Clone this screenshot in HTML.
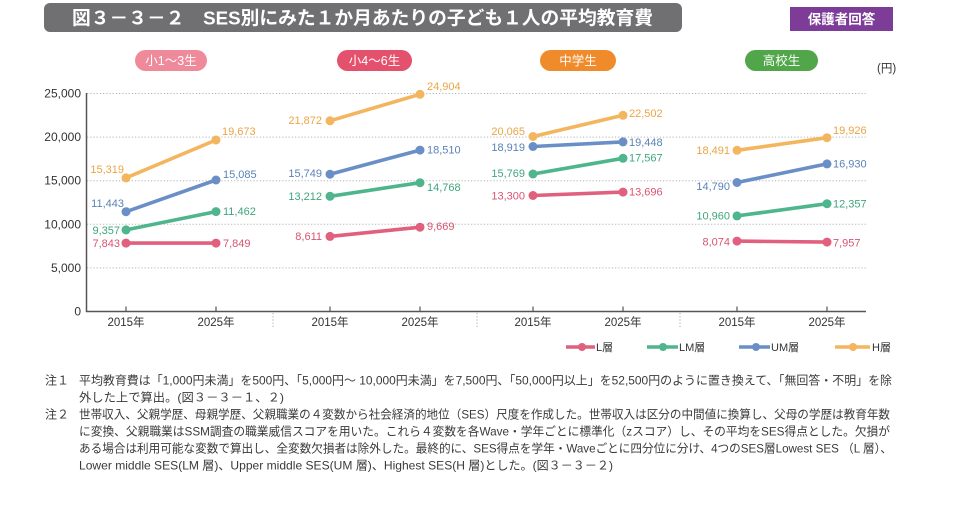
<!DOCTYPE html>
<html><head><meta charset="utf-8"><style>
html,body{margin:0;padding:0;background:#fff;}
svg{display:block;}
.t{font-family:"Liberation Sans","Noto Sans CJK JP",sans-serif;}
</style></head><body>
<svg width="957" height="526" viewBox="0 0 957 526" xmlns="http://www.w3.org/2000/svg" class="t">
<!-- title bar -->
<rect x="44" y="3" width="638" height="29" rx="6" fill="#707073"/>
<text x="72" y="24.5" font-size="18.5" font-weight="bold" fill="#fff" textLength="581" lengthAdjust="spacingAndGlyphs" font-family="Liberation Sans, Noto Sans CJK JP, sans-serif">図３－３－２　SES別にみた１か月あたりの子ども１人の平均教育費</text>
<rect x="790" y="7" width="103" height="24" fill="#7d3c98"/>
<text x="841.5" y="24" font-size="13.5" font-weight="bold" fill="#fff" text-anchor="middle" font-family="Liberation Sans, Noto Sans CJK JP, sans-serif">保護者回答</text>

<!-- pills -->
<rect x="135" y="50" width="72" height="21" rx="10.5" fill="#ef8a9b"/>
<text x="171" y="65" font-size="12.5" fill="#fff" text-anchor="middle" font-family="Liberation Sans, Noto Sans CJK JP, sans-serif">小1～3生</text>
<rect x="337" y="50" width="75" height="21" rx="10.5" fill="#e4516d"/>
<text x="374.5" y="65" font-size="12.5" fill="#fff" text-anchor="middle" font-family="Liberation Sans, Noto Sans CJK JP, sans-serif">小4～6生</text>
<rect x="540" y="50" width="76" height="21" rx="10.5" fill="#f08b2c"/>
<text x="578" y="65" font-size="12.5" fill="#fff" text-anchor="middle" font-family="Liberation Sans, Noto Sans CJK JP, sans-serif">中学生</text>
<rect x="745" y="50" width="73" height="21" rx="10.5" fill="#52a64a"/>
<text x="781.5" y="65" font-size="12.5" fill="#fff" text-anchor="middle" font-family="Liberation Sans, Noto Sans CJK JP, sans-serif">高校生</text>
<text x="877" y="72" font-size="11.5" fill="#333" font-family="Liberation Sans, Noto Sans CJK JP, sans-serif">(円)</text>

<!-- gridlines -->
<g stroke="#b5b5b5" stroke-width="1" stroke-dasharray="1.2,2">
<line x1="87" y1="93.5" x2="866" y2="93.5"/>
<line x1="87" y1="137.1" x2="866" y2="137.1"/>
<line x1="87" y1="180.7" x2="866" y2="180.7"/>
<line x1="87" y1="224.3" x2="866" y2="224.3"/>
<line x1="87" y1="267.9" x2="866" y2="267.9"/>
</g>
<!-- axes -->
<line x1="86.5" y1="93" x2="86.5" y2="312" stroke="#555" stroke-width="1.5"/>
<line x1="86" y1="311.5" x2="866" y2="311.5" stroke="#555" stroke-width="1.5"/>
<g stroke="#555" stroke-width="1.2">
<line x1="126" y1="306.5" x2="126" y2="311.5"/>
<line x1="216" y1="306.5" x2="216" y2="311.5"/>
<line x1="330" y1="306.5" x2="330" y2="311.5"/>
<line x1="420" y1="306.5" x2="420" y2="311.5"/>
<line x1="533" y1="306.5" x2="533" y2="311.5"/>
<line x1="623" y1="306.5" x2="623" y2="311.5"/>
<line x1="737" y1="306.5" x2="737" y2="311.5"/>
<line x1="827" y1="306.5" x2="827" y2="311.5"/>
</g>
<g stroke="#aaa" stroke-width="1" stroke-dasharray="1.2,2">
<line x1="273" y1="313" x2="273" y2="329"/>
<line x1="477" y1="313" x2="477" y2="329"/>
<line x1="680" y1="313" x2="680" y2="329"/>
</g>
<g font-size="12" fill="#333" text-anchor="end">
<text x="81" y="97.5">25,000</text>
<text x="81" y="141.1">20,000</text>
<text x="81" y="184.7">15,000</text>
<text x="81" y="228.3">10,000</text>
<text x="81" y="271.9">5,000</text>
<text x="81" y="315.5">0</text>
</g>
<g font-size="11.5" fill="#333" text-anchor="middle" font-family="Liberation Sans, Noto Sans CJK JP, sans-serif">
<text x="126" y="326">2015年</text>
<text x="216" y="326">2025年</text>
<text x="330" y="326">2015年</text>
<text x="420" y="326">2025年</text>
<text x="533" y="326">2015年</text>
<text x="623" y="326">2025年</text>
<text x="737" y="326">2015年</text>
<text x="827" y="326">2025年</text>
</g>

<!-- series lines -->
<g stroke-width="3.6" stroke-linecap="round" fill="none">
<g stroke="#e0607e">
<line x1="126" y1="243.1" x2="216" y2="243.1"/>
<line x1="330" y1="236.4" x2="420" y2="227.2"/>
<line x1="533" y1="195.5" x2="623" y2="192.1"/>
<line x1="737" y1="241.1" x2="827" y2="242.1"/>
</g>
<g stroke="#4fb58c">
<line x1="126" y1="229.9" x2="216" y2="211.6"/>
<line x1="330" y1="196.3" x2="420" y2="182.7"/>
<line x1="533" y1="174.0" x2="623" y2="158.3"/>
<line x1="737" y1="215.9" x2="827" y2="203.7"/>
</g>
<g stroke="#6a8fc6">
<line x1="126" y1="211.7" x2="216" y2="180.0"/>
<line x1="330" y1="174.2" x2="420" y2="150.1"/>
<line x1="533" y1="146.5" x2="623" y2="141.9"/>
<line x1="737" y1="182.5" x2="827" y2="163.9"/>
</g>
<g stroke="#f3b55e">
<line x1="126" y1="177.9" x2="216" y2="140.0"/>
<line x1="330" y1="120.8" x2="420" y2="94.3"/>
<line x1="533" y1="136.5" x2="623" y2="115.3"/>
<line x1="737" y1="150.3" x2="827" y2="137.7"/>
</g>
</g>
<!-- dots -->
<g fill="#e0607e">
<circle cx="126" cy="243.1" r="4.5"/><circle cx="216" cy="243.1" r="4.5"/>
<circle cx="330" cy="236.4" r="4.5"/><circle cx="420" cy="227.2" r="4.5"/>
<circle cx="533" cy="195.5" r="4.5"/><circle cx="623" cy="192.1" r="4.5"/>
<circle cx="737" cy="241.1" r="4.5"/><circle cx="827" cy="242.1" r="4.5"/>
</g>
<g fill="#4fb58c">
<circle cx="126" cy="229.9" r="4.5"/><circle cx="216" cy="211.6" r="4.5"/>
<circle cx="330" cy="196.3" r="4.5"/><circle cx="420" cy="182.7" r="4.5"/>
<circle cx="533" cy="174.0" r="4.5"/><circle cx="623" cy="158.3" r="4.5"/>
<circle cx="737" cy="215.9" r="4.5"/><circle cx="827" cy="203.7" r="4.5"/>
</g>
<g fill="#6a8fc6">
<circle cx="126" cy="211.7" r="4.5"/><circle cx="216" cy="180.0" r="4.5"/>
<circle cx="330" cy="174.2" r="4.5"/><circle cx="420" cy="150.1" r="4.5"/>
<circle cx="533" cy="146.5" r="4.5"/><circle cx="623" cy="141.9" r="4.5"/>
<circle cx="737" cy="182.5" r="4.5"/><circle cx="827" cy="163.9" r="4.5"/>
</g>
<g fill="#f3b55e">
<circle cx="126" cy="177.9" r="4.5"/><circle cx="216" cy="140.0" r="4.5"/>
<circle cx="330" cy="120.8" r="4.5"/><circle cx="420" cy="94.3" r="4.5"/>
<circle cx="533" cy="136.5" r="4.5"/><circle cx="623" cy="115.3" r="4.5"/>
<circle cx="737" cy="150.3" r="4.5"/><circle cx="827" cy="137.7" r="4.5"/>
</g>

<!-- data labels -->
<g font-size="11">
<g fill="#d9536f">
<text x="120" y="247" text-anchor="end">7,843</text>
<text x="223" y="247">7,849</text>
<text x="322" y="240" text-anchor="end">8,611</text>
<text x="427" y="230">9,669</text>
<text x="525" y="199.5" text-anchor="end">13,300</text>
<text x="629" y="195.5">13,696</text>
<text x="730" y="245.3" text-anchor="end">8,074</text>
<text x="833" y="246.3">7,957</text>
</g>
<g fill="#3ea67d">
<text x="120" y="234" text-anchor="end">9,357</text>
<text x="223" y="215">11,462</text>
<text x="322" y="200" text-anchor="end">13,212</text>
<text x="427" y="191">14,768</text>
<text x="525" y="177" text-anchor="end">15,769</text>
<text x="629" y="161.5">17,567</text>
<text x="730" y="219.7" text-anchor="end">10,960</text>
<text x="833" y="207.3">12,357</text>
</g>
<g fill="#5a82b8">
<text x="124" y="207" text-anchor="end">11,443</text>
<text x="223" y="178">15,085</text>
<text x="322" y="177" text-anchor="end">15,749</text>
<text x="427" y="153.5">18,510</text>
<text x="525" y="151" text-anchor="end">18,919</text>
<text x="629" y="146">19,448</text>
<text x="730" y="190" text-anchor="end">14,790</text>
<text x="833" y="167.3">16,930</text>
</g>
<g fill="#eba445">
<text x="124" y="173" text-anchor="end">15,319</text>
<text x="222" y="135">19,673</text>
<text x="322" y="124" text-anchor="end">21,872</text>
<text x="427" y="90">24,904</text>
<text x="525" y="135" text-anchor="end">20,065</text>
<text x="629" y="117">22,502</text>
<text x="730" y="154" text-anchor="end">18,491</text>
<text x="833" y="134">19,926</text>
</g>
</g>

<!-- legend -->
<g stroke-width="3.6">
<line x1="566" y1="347" x2="595" y2="347" stroke="#e0607e"/>
<line x1="647" y1="347" x2="678" y2="347" stroke="#4fb58c"/>
<line x1="739" y1="347" x2="770" y2="347" stroke="#6a8fc6"/>
<line x1="835" y1="347" x2="870" y2="347" stroke="#f3b55e"/>
</g>
<circle cx="582" cy="347" r="4" fill="#e0607e"/>
<circle cx="663" cy="347" r="4" fill="#4fb58c"/>
<circle cx="756" cy="347" r="4" fill="#6a8fc6"/>
<circle cx="853" cy="347" r="4" fill="#f3b55e"/>
<g font-size="11" fill="#333" font-family="Liberation Sans, Noto Sans CJK JP, sans-serif">
<text x="596" y="351">L層</text>
<text x="679" y="351">LM層</text>
<text x="771" y="351">UM層</text>
<text x="872" y="351">H層</text>
</g>

<!-- notes -->
<g font-size="12" fill="#3a3a3a" font-family="Liberation Sans, Noto Sans CJK JP, sans-serif">
<text x="45" y="384.5">注１</text>
<text x="79" y="384.5" textLength="813" lengthAdjust="spacingAndGlyphs">平均教育費は「1,000円未満」を500円、「5,000円～ 10,000円未満」を7,500円、「50,000円以上」を52,500円のように置き換えて、「無回答・不明」を除</text>
<text x="79" y="401.5" textLength="205" lengthAdjust="spacingAndGlyphs">外した上で算出。(図３－３－１、２)</text>
<text x="45" y="418.5">注２</text>
<text x="79" y="418.5" textLength="811" lengthAdjust="spacingAndGlyphs">世帯収入、父親学歴、母親学歴、父親職業の４変数から社会経済的地位（SES）尺度を作成した。世帯収入は区分の中間値に換算し、父母の学歴は教育年数</text>
<text x="79" y="435.5" textLength="811" lengthAdjust="spacingAndGlyphs">に変換、父親職業はSSM調査の職業威信スコアを用いた。これら４変数を各Wave・学年ごとに標準化（zスコア）し、その平均をSES得点とした。欠損が</text>
<text x="79" y="452.5" textLength="813" lengthAdjust="spacingAndGlyphs">ある場合は利用可能な変数で算出し、全変数欠損者は除外した。最終的に、SES得点を学年・Waveごとに四分位に分け、4つのSES層Lowest SES （L 層）、</text>
<text x="79" y="469.5" textLength="534" lengthAdjust="spacingAndGlyphs">Lower middle SES(LM 層)、Upper middle SES(UM 層)、Highest SES(H 層)とした。(図３－３－２)</text>
</g>
</svg>
</body></html>
